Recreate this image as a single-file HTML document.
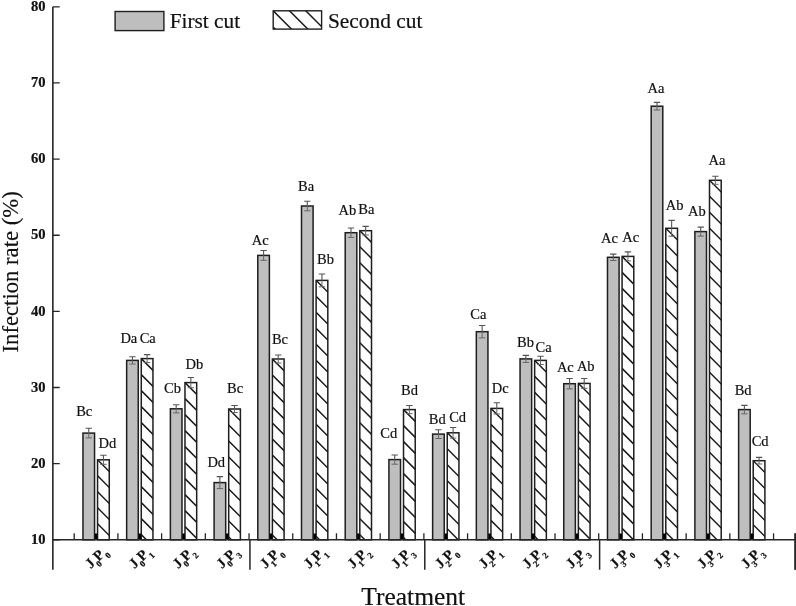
<!DOCTYPE html><html><head><meta charset="utf-8"><style>html,body{margin:0;padding:0;background:#fff;}svg{display:block;will-change:transform;}text{font-family:"Liberation Serif",serif;stroke:#111;stroke-width:0.2px;}</style></head><body>
<svg width="796" height="606" viewBox="0 0 796 606">
<rect width="796" height="606" fill="#fff"/>
<defs>
<clipPath id="c0"><rect x="97.56" y="459.80" width="11.70" height="80.00"/></clipPath>
<clipPath id="c1"><rect x="141.26" y="358.60" width="11.70" height="181.20"/></clipPath>
<clipPath id="c2"><rect x="184.98" y="382.60" width="11.70" height="157.20"/></clipPath>
<clipPath id="c3"><rect x="228.69" y="409.00" width="11.70" height="130.80"/></clipPath>
<clipPath id="c4"><rect x="272.39" y="359.00" width="11.70" height="180.80"/></clipPath>
<clipPath id="c5"><rect x="316.11" y="280.40" width="11.70" height="259.40"/></clipPath>
<clipPath id="c6"><rect x="359.81" y="230.70" width="11.70" height="309.10"/></clipPath>
<clipPath id="c7"><rect x="403.52" y="409.60" width="11.70" height="130.20"/></clipPath>
<clipPath id="c8"><rect x="447.24" y="432.80" width="11.70" height="107.00"/></clipPath>
<clipPath id="c9"><rect x="490.94" y="408.40" width="11.70" height="131.40"/></clipPath>
<clipPath id="c10"><rect x="534.65" y="360.40" width="11.70" height="179.40"/></clipPath>
<clipPath id="c11"><rect x="578.37" y="383.40" width="11.70" height="156.40"/></clipPath>
<clipPath id="c12"><rect x="622.08" y="256.40" width="11.70" height="283.40"/></clipPath>
<clipPath id="c13"><rect x="665.79" y="228.30" width="11.70" height="311.50"/></clipPath>
<clipPath id="c14"><rect x="709.50" y="180.30" width="11.70" height="359.50"/></clipPath>
<clipPath id="c15"><rect x="753.21" y="460.70" width="11.70" height="79.10"/></clipPath>
</defs>
<rect x="82.96" y="433.10" width="11.60" height="106.70" fill="#bebebe" stroke="#1e1e1e" stroke-width="1.5"/>
<rect x="97.56" y="459.80" width="11.70" height="80.00" fill="#fff"/>
<path d="M97.56 427.80L205.25 535.50M97.56 443.80L205.25 551.50M97.56 459.80L205.25 567.50M97.56 475.80L205.25 583.50M97.56 491.80L205.25 599.50M97.56 507.80L205.25 615.50M97.56 523.80L205.25 631.50M97.56 539.80L205.25 647.50" stroke="#1e1e1e" stroke-width="1.5" fill="none" clip-path="url(#c0)"/>
<rect x="97.56" y="459.80" width="11.70" height="80.00" fill="none" stroke="#1e1e1e" stroke-width="1.5"/>
<rect x="94.86" y="533.50" width="2.6" height="6.3" fill="#000"/>
<path d="M85.56 428.30H91.96M88.76 428.30V433.10" stroke="#555" stroke-width="1.1" fill="none"/>
<path d="M85.56 437.90H91.96M88.76 433.10V437.90" stroke="#666" stroke-width="1.0" fill="none"/>
<path d="M100.20 455.30H106.61M103.41 455.30V459.80" stroke="#555" stroke-width="1.1" fill="none"/>
<path d="M100.20 464.30H106.61M103.41 459.80V464.30" stroke="#666" stroke-width="1.0" fill="none"/>
<rect x="126.66" y="360.40" width="11.60" height="179.40" fill="#bebebe" stroke="#1e1e1e" stroke-width="1.5"/>
<rect x="141.26" y="358.60" width="11.70" height="181.20" fill="#fff"/>
<path d="M141.26 326.60L350.16 535.50M141.26 342.60L350.16 551.50M141.26 358.60L350.16 567.50M141.26 374.60L350.16 583.50M141.26 390.60L350.16 599.50M141.26 406.60L350.16 615.50M141.26 422.60L350.16 631.50M141.26 438.60L350.16 647.50M141.26 454.60L350.16 663.50M141.26 470.60L350.16 679.50M141.26 486.60L350.16 695.50M141.26 502.60L350.16 711.50M141.26 518.60L350.16 727.50M141.26 534.60L350.16 743.50M141.26 550.60L350.16 759.50" stroke="#1e1e1e" stroke-width="1.5" fill="none" clip-path="url(#c1)"/>
<rect x="141.26" y="358.60" width="11.70" height="181.20" fill="none" stroke="#1e1e1e" stroke-width="1.5"/>
<rect x="138.56" y="533.50" width="2.6" height="6.3" fill="#000"/>
<path d="M129.26 356.80H135.66M132.46 356.80V360.40" stroke="#555" stroke-width="1.1" fill="none"/>
<path d="M129.26 364.00H135.66M132.46 360.40V364.00" stroke="#666" stroke-width="1.0" fill="none"/>
<path d="M143.91 354.60H150.31M147.11 354.60V358.60" stroke="#555" stroke-width="1.1" fill="none"/>
<path d="M143.91 362.60H150.31M147.11 358.60V362.60" stroke="#666" stroke-width="1.0" fill="none"/>
<rect x="170.38" y="408.80" width="11.60" height="131.00" fill="#bebebe" stroke="#1e1e1e" stroke-width="1.5"/>
<rect x="184.98" y="382.60" width="11.70" height="157.20" fill="#fff"/>
<path d="M184.98 350.60L369.87 535.50M184.98 366.60L369.87 551.50M184.98 382.60L369.87 567.50M184.98 398.60L369.87 583.50M184.98 414.60L369.87 599.50M184.98 430.60L369.87 615.50M184.98 446.60L369.87 631.50M184.98 462.60L369.87 647.50M184.98 478.60L369.87 663.50M184.98 494.60L369.87 679.50M184.98 510.60L369.87 695.50M184.98 526.60L369.87 711.50M184.98 542.60L369.87 727.50" stroke="#1e1e1e" stroke-width="1.5" fill="none" clip-path="url(#c2)"/>
<rect x="184.98" y="382.60" width="11.70" height="157.20" fill="none" stroke="#1e1e1e" stroke-width="1.5"/>
<rect x="182.28" y="533.50" width="2.6" height="6.3" fill="#000"/>
<path d="M172.98 404.70H179.38M176.18 404.70V408.80" stroke="#555" stroke-width="1.1" fill="none"/>
<path d="M172.98 412.90H179.38M176.18 408.80V412.90" stroke="#666" stroke-width="1.0" fill="none"/>
<path d="M187.63 377.50H194.03M190.83 377.50V382.60" stroke="#555" stroke-width="1.1" fill="none"/>
<path d="M187.63 387.70H194.03M190.83 382.60V387.70" stroke="#666" stroke-width="1.0" fill="none"/>
<rect x="214.09" y="482.60" width="11.60" height="57.20" fill="#bebebe" stroke="#1e1e1e" stroke-width="1.5"/>
<rect x="228.69" y="409.00" width="11.70" height="130.80" fill="#fff"/>
<path d="M228.69 377.00L387.18 535.50M228.69 393.00L387.18 551.50M228.69 409.00L387.18 567.50M228.69 425.00L387.18 583.50M228.69 441.00L387.18 599.50M228.69 457.00L387.18 615.50M228.69 473.00L387.18 631.50M228.69 489.00L387.18 647.50M228.69 505.00L387.18 663.50M228.69 521.00L387.18 679.50M228.69 537.00L387.18 695.50M228.69 553.00L387.18 711.50" stroke="#1e1e1e" stroke-width="1.5" fill="none" clip-path="url(#c3)"/>
<rect x="228.69" y="409.00" width="11.70" height="130.80" fill="none" stroke="#1e1e1e" stroke-width="1.5"/>
<rect x="225.99" y="533.50" width="2.6" height="6.3" fill="#000"/>
<path d="M216.69 476.60H223.08M219.88 476.60V482.60" stroke="#555" stroke-width="1.1" fill="none"/>
<path d="M216.69 488.60H223.08M219.88 482.60V488.60" stroke="#666" stroke-width="1.0" fill="none"/>
<path d="M231.34 405.50H237.73M234.53 405.50V409.00" stroke="#555" stroke-width="1.1" fill="none"/>
<path d="M231.34 412.50H237.73M234.53 409.00V412.50" stroke="#666" stroke-width="1.0" fill="none"/>
<rect x="257.79" y="255.40" width="11.60" height="284.40" fill="#bebebe" stroke="#1e1e1e" stroke-width="1.5"/>
<rect x="272.39" y="359.00" width="11.70" height="180.80" fill="#fff"/>
<path d="M272.39 327.00L480.89 535.50M272.39 343.00L480.89 551.50M272.39 359.00L480.89 567.50M272.39 375.00L480.89 583.50M272.39 391.00L480.89 599.50M272.39 407.00L480.89 615.50M272.39 423.00L480.89 631.50M272.39 439.00L480.89 647.50M272.39 455.00L480.89 663.50M272.39 471.00L480.89 679.50M272.39 487.00L480.89 695.50M272.39 503.00L480.89 711.50M272.39 519.00L480.89 727.50M272.39 535.00L480.89 743.50M272.39 551.00L480.89 759.50" stroke="#1e1e1e" stroke-width="1.5" fill="none" clip-path="url(#c4)"/>
<rect x="272.39" y="359.00" width="11.70" height="180.80" fill="none" stroke="#1e1e1e" stroke-width="1.5"/>
<rect x="269.69" y="533.50" width="2.6" height="6.3" fill="#000"/>
<path d="M260.39 250.50H266.79M263.59 250.50V255.40" stroke="#555" stroke-width="1.1" fill="none"/>
<path d="M260.39 260.30H266.79M263.59 255.40V260.30" stroke="#666" stroke-width="1.0" fill="none"/>
<path d="M275.05 355.00H281.44M278.25 355.00V359.00" stroke="#555" stroke-width="1.1" fill="none"/>
<path d="M275.05 363.00H281.44M278.25 359.00V363.00" stroke="#666" stroke-width="1.0" fill="none"/>
<rect x="301.50" y="206.00" width="11.60" height="333.80" fill="#bebebe" stroke="#1e1e1e" stroke-width="1.5"/>
<rect x="316.11" y="280.40" width="11.70" height="259.40" fill="#fff"/>
<path d="M316.11 248.40L603.20 535.50M316.11 264.40L603.20 551.50M316.11 280.40L603.20 567.50M316.11 296.40L603.20 583.50M316.11 312.40L603.20 599.50M316.11 328.40L603.20 615.50M316.11 344.40L603.20 631.50M316.11 360.40L603.20 647.50M316.11 376.40L603.20 663.50M316.11 392.40L603.20 679.50M316.11 408.40L603.20 695.50M316.11 424.40L603.20 711.50M316.11 440.40L603.20 727.50M316.11 456.40L603.20 743.50M316.11 472.40L603.20 759.50M316.11 488.40L603.20 775.50M316.11 504.40L603.20 791.50M316.11 520.40L603.20 807.50M316.11 536.40L603.20 823.50M316.11 552.40L603.20 839.50" stroke="#1e1e1e" stroke-width="1.5" fill="none" clip-path="url(#c5)"/>
<rect x="316.11" y="280.40" width="11.70" height="259.40" fill="none" stroke="#1e1e1e" stroke-width="1.5"/>
<rect x="313.41" y="533.50" width="2.6" height="6.3" fill="#000"/>
<path d="M304.11 201.20H310.50M307.31 201.20V206.00" stroke="#555" stroke-width="1.1" fill="none"/>
<path d="M304.11 210.80H310.50M307.31 206.00V210.80" stroke="#666" stroke-width="1.0" fill="none"/>
<path d="M318.76 274.00H325.16M321.96 274.00V280.40" stroke="#555" stroke-width="1.1" fill="none"/>
<path d="M318.76 286.80H325.16M321.96 280.40V286.80" stroke="#666" stroke-width="1.0" fill="none"/>
<rect x="345.21" y="232.70" width="11.60" height="307.10" fill="#bebebe" stroke="#1e1e1e" stroke-width="1.5"/>
<rect x="359.81" y="230.70" width="11.70" height="309.10" fill="#fff"/>
<path d="M359.81 198.70L696.62 535.50M359.81 214.70L696.62 551.50M359.81 230.70L696.62 567.50M359.81 246.70L696.62 583.50M359.81 262.70L696.62 599.50M359.81 278.70L696.62 615.50M359.81 294.70L696.62 631.50M359.81 310.70L696.62 647.50M359.81 326.70L696.62 663.50M359.81 342.70L696.62 679.50M359.81 358.70L696.62 695.50M359.81 374.70L696.62 711.50M359.81 390.70L696.62 727.50M359.81 406.70L696.62 743.50M359.81 422.70L696.62 759.50M359.81 438.70L696.62 775.50M359.81 454.70L696.62 791.50M359.81 470.70L696.62 807.50M359.81 486.70L696.62 823.50M359.81 502.70L696.62 839.50M359.81 518.70L696.62 855.50M359.81 534.70L696.62 871.50M359.81 550.70L696.62 887.50" stroke="#1e1e1e" stroke-width="1.5" fill="none" clip-path="url(#c6)"/>
<rect x="359.81" y="230.70" width="11.70" height="309.10" fill="none" stroke="#1e1e1e" stroke-width="1.5"/>
<rect x="357.12" y="533.50" width="2.6" height="6.3" fill="#000"/>
<path d="M347.81 228.00H354.21M351.01 228.00V232.70" stroke="#555" stroke-width="1.1" fill="none"/>
<path d="M347.81 237.40H354.21M351.01 232.70V237.40" stroke="#666" stroke-width="1.0" fill="none"/>
<path d="M362.46 226.40H368.86M365.66 226.40V230.70" stroke="#555" stroke-width="1.1" fill="none"/>
<path d="M362.46 235.00H368.86M365.66 230.70V235.00" stroke="#666" stroke-width="1.0" fill="none"/>
<rect x="388.92" y="459.60" width="11.60" height="80.20" fill="#bebebe" stroke="#1e1e1e" stroke-width="1.5"/>
<rect x="403.52" y="409.60" width="11.70" height="130.20" fill="#fff"/>
<path d="M403.52 377.60L561.42 535.50M403.52 393.60L561.42 551.50M403.52 409.60L561.42 567.50M403.52 425.60L561.42 583.50M403.52 441.60L561.42 599.50M403.52 457.60L561.42 615.50M403.52 473.60L561.42 631.50M403.52 489.60L561.42 647.50M403.52 505.60L561.42 663.50M403.52 521.60L561.42 679.50M403.52 537.60L561.42 695.50M403.52 553.60L561.42 711.50" stroke="#1e1e1e" stroke-width="1.5" fill="none" clip-path="url(#c7)"/>
<rect x="403.52" y="409.60" width="11.70" height="130.20" fill="none" stroke="#1e1e1e" stroke-width="1.5"/>
<rect x="400.82" y="533.50" width="2.6" height="6.3" fill="#000"/>
<path d="M391.52 455.00H397.92M394.72 455.00V459.60" stroke="#555" stroke-width="1.1" fill="none"/>
<path d="M391.52 464.20H397.92M394.72 459.60V464.20" stroke="#666" stroke-width="1.0" fill="none"/>
<path d="M406.18 405.50H412.57M409.38 405.50V409.60" stroke="#555" stroke-width="1.1" fill="none"/>
<path d="M406.18 413.70H412.57M409.38 409.60V413.70" stroke="#666" stroke-width="1.0" fill="none"/>
<rect x="432.63" y="434.10" width="11.60" height="105.70" fill="#bebebe" stroke="#1e1e1e" stroke-width="1.5"/>
<rect x="447.24" y="432.80" width="11.70" height="107.00" fill="#fff"/>
<path d="M447.24 400.80L581.93 535.50M447.24 416.80L581.93 551.50M447.24 432.80L581.93 567.50M447.24 448.80L581.93 583.50M447.24 464.80L581.93 599.50M447.24 480.80L581.93 615.50M447.24 496.80L581.93 631.50M447.24 512.80L581.93 647.50M447.24 528.80L581.93 663.50M447.24 544.80L581.93 679.50" stroke="#1e1e1e" stroke-width="1.5" fill="none" clip-path="url(#c8)"/>
<rect x="447.24" y="432.80" width="11.70" height="107.00" fill="none" stroke="#1e1e1e" stroke-width="1.5"/>
<rect x="444.54" y="533.50" width="2.6" height="6.3" fill="#000"/>
<path d="M435.24 429.70H441.63M438.44 429.70V434.10" stroke="#555" stroke-width="1.1" fill="none"/>
<path d="M435.24 438.50H441.63M438.44 434.10V438.50" stroke="#666" stroke-width="1.0" fill="none"/>
<path d="M449.89 427.50H456.29M453.09 427.50V432.80" stroke="#555" stroke-width="1.1" fill="none"/>
<path d="M449.89 438.10H456.29M453.09 432.80V438.10" stroke="#666" stroke-width="1.0" fill="none"/>
<rect x="476.34" y="331.70" width="11.60" height="208.10" fill="#bebebe" stroke="#1e1e1e" stroke-width="1.5"/>
<rect x="490.94" y="408.40" width="11.70" height="131.40" fill="#fff"/>
<path d="M490.94 376.40L650.04 535.50M490.94 392.40L650.04 551.50M490.94 408.40L650.04 567.50M490.94 424.40L650.04 583.50M490.94 440.40L650.04 599.50M490.94 456.40L650.04 615.50M490.94 472.40L650.04 631.50M490.94 488.40L650.04 647.50M490.94 504.40L650.04 663.50M490.94 520.40L650.04 679.50M490.94 536.40L650.04 695.50M490.94 552.40L650.04 711.50" stroke="#1e1e1e" stroke-width="1.5" fill="none" clip-path="url(#c9)"/>
<rect x="490.94" y="408.40" width="11.70" height="131.40" fill="none" stroke="#1e1e1e" stroke-width="1.5"/>
<rect x="488.25" y="533.50" width="2.6" height="6.3" fill="#000"/>
<path d="M478.94 325.50H485.34M482.14 325.50V331.70" stroke="#555" stroke-width="1.1" fill="none"/>
<path d="M478.94 337.90H485.34M482.14 331.70V337.90" stroke="#666" stroke-width="1.0" fill="none"/>
<path d="M493.59 402.80H499.99M496.79 402.80V408.40" stroke="#555" stroke-width="1.1" fill="none"/>
<path d="M493.59 414.00H499.99M496.79 408.40V414.00" stroke="#666" stroke-width="1.0" fill="none"/>
<rect x="520.05" y="358.90" width="11.60" height="180.90" fill="#bebebe" stroke="#1e1e1e" stroke-width="1.5"/>
<rect x="534.65" y="360.40" width="11.70" height="179.40" fill="#fff"/>
<path d="M534.65 328.40L741.75 535.50M534.65 344.40L741.75 551.50M534.65 360.40L741.75 567.50M534.65 376.40L741.75 583.50M534.65 392.40L741.75 599.50M534.65 408.40L741.75 615.50M534.65 424.40L741.75 631.50M534.65 440.40L741.75 647.50M534.65 456.40L741.75 663.50M534.65 472.40L741.75 679.50M534.65 488.40L741.75 695.50M534.65 504.40L741.75 711.50M534.65 520.40L741.75 727.50M534.65 536.40L741.75 743.50M534.65 552.40L741.75 759.50" stroke="#1e1e1e" stroke-width="1.5" fill="none" clip-path="url(#c10)"/>
<rect x="534.65" y="360.40" width="11.70" height="179.40" fill="none" stroke="#1e1e1e" stroke-width="1.5"/>
<rect x="531.95" y="533.50" width="2.6" height="6.3" fill="#000"/>
<path d="M522.65 355.40H529.06M525.86 355.40V358.90" stroke="#555" stroke-width="1.1" fill="none"/>
<path d="M522.65 362.40H529.06M525.86 358.90V362.40" stroke="#666" stroke-width="1.0" fill="none"/>
<path d="M537.30 356.30H543.71M540.50 356.30V360.40" stroke="#555" stroke-width="1.1" fill="none"/>
<path d="M537.30 364.50H543.71M540.50 360.40V364.50" stroke="#666" stroke-width="1.0" fill="none"/>
<rect x="563.76" y="383.70" width="11.60" height="156.10" fill="#bebebe" stroke="#1e1e1e" stroke-width="1.5"/>
<rect x="578.37" y="383.40" width="11.70" height="156.40" fill="#fff"/>
<path d="M578.37 351.40L762.47 535.50M578.37 367.40L762.47 551.50M578.37 383.40L762.47 567.50M578.37 399.40L762.47 583.50M578.37 415.40L762.47 599.50M578.37 431.40L762.47 615.50M578.37 447.40L762.47 631.50M578.37 463.40L762.47 647.50M578.37 479.40L762.47 663.50M578.37 495.40L762.47 679.50M578.37 511.40L762.47 695.50M578.37 527.40L762.47 711.50M578.37 543.40L762.47 727.50" stroke="#1e1e1e" stroke-width="1.5" fill="none" clip-path="url(#c11)"/>
<rect x="578.37" y="383.40" width="11.70" height="156.40" fill="none" stroke="#1e1e1e" stroke-width="1.5"/>
<rect x="575.66" y="533.50" width="2.6" height="6.3" fill="#000"/>
<path d="M566.37 378.50H572.77M569.57 378.50V383.70" stroke="#555" stroke-width="1.1" fill="none"/>
<path d="M566.37 388.90H572.77M569.57 383.70V388.90" stroke="#666" stroke-width="1.0" fill="none"/>
<path d="M581.01 378.50H587.42M584.22 378.50V383.40" stroke="#555" stroke-width="1.1" fill="none"/>
<path d="M581.01 388.30H587.42M584.22 383.40V388.30" stroke="#666" stroke-width="1.0" fill="none"/>
<rect x="607.48" y="257.30" width="11.60" height="282.50" fill="#bebebe" stroke="#1e1e1e" stroke-width="1.5"/>
<rect x="622.08" y="256.40" width="11.70" height="283.40" fill="#fff"/>
<path d="M622.08 224.40L933.18 535.50M622.08 240.40L933.18 551.50M622.08 256.40L933.18 567.50M622.08 272.40L933.18 583.50M622.08 288.40L933.18 599.50M622.08 304.40L933.18 615.50M622.08 320.40L933.18 631.50M622.08 336.40L933.18 647.50M622.08 352.40L933.18 663.50M622.08 368.40L933.18 679.50M622.08 384.40L933.18 695.50M622.08 400.40L933.18 711.50M622.08 416.40L933.18 727.50M622.08 432.40L933.18 743.50M622.08 448.40L933.18 759.50M622.08 464.40L933.18 775.50M622.08 480.40L933.18 791.50M622.08 496.40L933.18 807.50M622.08 512.40L933.18 823.50M622.08 528.40L933.18 839.50M622.08 544.40L933.18 855.50" stroke="#1e1e1e" stroke-width="1.5" fill="none" clip-path="url(#c12)"/>
<rect x="622.08" y="256.40" width="11.70" height="283.40" fill="none" stroke="#1e1e1e" stroke-width="1.5"/>
<rect x="619.38" y="533.50" width="2.6" height="6.3" fill="#000"/>
<path d="M610.08 254.10H616.48M613.28 254.10V257.30" stroke="#555" stroke-width="1.1" fill="none"/>
<path d="M610.08 260.50H616.48M613.28 257.30V260.50" stroke="#666" stroke-width="1.0" fill="none"/>
<path d="M624.73 251.90H631.13M627.93 251.90V256.40" stroke="#555" stroke-width="1.1" fill="none"/>
<path d="M624.73 260.90H631.13M627.93 256.40V260.90" stroke="#666" stroke-width="1.0" fill="none"/>
<rect x="651.19" y="106.20" width="11.60" height="433.60" fill="#bebebe" stroke="#1e1e1e" stroke-width="1.5"/>
<rect x="665.79" y="228.30" width="11.70" height="311.50" fill="#fff"/>
<path d="M665.79 196.30L1004.99 535.50M665.79 212.30L1004.99 551.50M665.79 228.30L1004.99 567.50M665.79 244.30L1004.99 583.50M665.79 260.30L1004.99 599.50M665.79 276.30L1004.99 615.50M665.79 292.30L1004.99 631.50M665.79 308.30L1004.99 647.50M665.79 324.30L1004.99 663.50M665.79 340.30L1004.99 679.50M665.79 356.30L1004.99 695.50M665.79 372.30L1004.99 711.50M665.79 388.30L1004.99 727.50M665.79 404.30L1004.99 743.50M665.79 420.30L1004.99 759.50M665.79 436.30L1004.99 775.50M665.79 452.30L1004.99 791.50M665.79 468.30L1004.99 807.50M665.79 484.30L1004.99 823.50M665.79 500.30L1004.99 839.50M665.79 516.30L1004.99 855.50M665.79 532.30L1004.99 871.50M665.79 548.30L1004.99 887.50" stroke="#1e1e1e" stroke-width="1.5" fill="none" clip-path="url(#c13)"/>
<rect x="665.79" y="228.30" width="11.70" height="311.50" fill="none" stroke="#1e1e1e" stroke-width="1.5"/>
<rect x="663.09" y="533.50" width="2.6" height="6.3" fill="#000"/>
<path d="M653.79 102.40H660.19M656.99 102.40V106.20" stroke="#555" stroke-width="1.1" fill="none"/>
<path d="M653.79 110.00H660.19M656.99 106.20V110.00" stroke="#666" stroke-width="1.0" fill="none"/>
<path d="M668.44 220.40H674.84M671.64 220.40V228.30" stroke="#555" stroke-width="1.1" fill="none"/>
<path d="M668.44 236.20H674.84M671.64 228.30V236.20" stroke="#666" stroke-width="1.0" fill="none"/>
<rect x="694.89" y="231.60" width="11.60" height="308.20" fill="#bebebe" stroke="#1e1e1e" stroke-width="1.5"/>
<rect x="709.50" y="180.30" width="11.70" height="359.50" fill="#fff"/>
<path d="M709.50 148.30L1096.69 535.50M709.50 164.30L1096.69 551.50M709.50 180.30L1096.69 567.50M709.50 196.30L1096.69 583.50M709.50 212.30L1096.69 599.50M709.50 228.30L1096.69 615.50M709.50 244.30L1096.69 631.50M709.50 260.30L1096.69 647.50M709.50 276.30L1096.69 663.50M709.50 292.30L1096.69 679.50M709.50 308.30L1096.69 695.50M709.50 324.30L1096.69 711.50M709.50 340.30L1096.69 727.50M709.50 356.30L1096.69 743.50M709.50 372.30L1096.69 759.50M709.50 388.30L1096.69 775.50M709.50 404.30L1096.69 791.50M709.50 420.30L1096.69 807.50M709.50 436.30L1096.69 823.50M709.50 452.30L1096.69 839.50M709.50 468.30L1096.69 855.50M709.50 484.30L1096.69 871.50M709.50 500.30L1096.69 887.50M709.50 516.30L1096.69 903.50M709.50 532.30L1096.69 919.50M709.50 548.30L1096.69 935.50" stroke="#1e1e1e" stroke-width="1.5" fill="none" clip-path="url(#c14)"/>
<rect x="709.50" y="180.30" width="11.70" height="359.50" fill="none" stroke="#1e1e1e" stroke-width="1.5"/>
<rect x="706.79" y="533.50" width="2.6" height="6.3" fill="#000"/>
<path d="M697.49 227.10H703.89M700.69 227.10V231.60" stroke="#555" stroke-width="1.1" fill="none"/>
<path d="M697.49 236.10H703.89M700.69 231.60V236.10" stroke="#666" stroke-width="1.0" fill="none"/>
<path d="M712.14 176.30H718.55M715.35 176.30V180.30" stroke="#555" stroke-width="1.1" fill="none"/>
<path d="M712.14 184.30H718.55M715.35 180.30V184.30" stroke="#666" stroke-width="1.0" fill="none"/>
<rect x="738.61" y="409.60" width="11.60" height="130.20" fill="#bebebe" stroke="#1e1e1e" stroke-width="1.5"/>
<rect x="753.21" y="460.70" width="11.70" height="79.10" fill="#fff"/>
<path d="M753.21 428.70L860.01 535.50M753.21 444.70L860.01 551.50M753.21 460.70L860.01 567.50M753.21 476.70L860.01 583.50M753.21 492.70L860.01 599.50M753.21 508.70L860.01 615.50M753.21 524.70L860.01 631.50M753.21 540.70L860.01 647.50" stroke="#1e1e1e" stroke-width="1.5" fill="none" clip-path="url(#c15)"/>
<rect x="753.21" y="460.70" width="11.70" height="79.10" fill="none" stroke="#1e1e1e" stroke-width="1.5"/>
<rect x="750.50" y="533.50" width="2.6" height="6.3" fill="#000"/>
<path d="M741.20 405.40H747.61M744.40 405.40V409.60" stroke="#555" stroke-width="1.1" fill="none"/>
<path d="M741.20 413.80H747.61M744.40 409.60V413.80" stroke="#666" stroke-width="1.0" fill="none"/>
<path d="M755.86 457.40H762.26M759.06 457.40V460.70" stroke="#555" stroke-width="1.1" fill="none"/>
<path d="M755.86 464.00H762.26M759.06 460.70V464.00" stroke="#666" stroke-width="1.0" fill="none"/>
<g font-size="14.5" fill="#111" stroke="#111" stroke-width="0.25">
<text x="76.20" y="415.50">Bc</text>
<text x="98.50" y="447.90">Dd</text>
<text x="120.40" y="343.20">Da</text>
<text x="139.70" y="343.20">Ca</text>
<text x="164.00" y="393.40">Cb</text>
<text x="185.50" y="368.50">Db</text>
<text x="207.40" y="466.90">Dd</text>
<text x="227.10" y="393.40">Bc</text>
<text x="251.70" y="244.80">Ac</text>
<text x="271.90" y="343.80">Bc</text>
<text x="298.00" y="190.70">Ba</text>
<text x="317.10" y="263.90">Bb</text>
<text x="338.50" y="215.00">Ab</text>
<text x="358.30" y="214.00">Ba</text>
<text x="380.30" y="437.70">Cd</text>
<text x="401.00" y="395.10">Bd</text>
<text x="428.80" y="423.80">Bd</text>
<text x="449.20" y="421.80">Cd</text>
<text x="470.30" y="319.10">Ca</text>
<text x="491.70" y="392.90">Dc</text>
<text x="517.00" y="346.80">Bb</text>
<text x="535.50" y="352.20">Ca</text>
<text x="556.90" y="372.20">Ac</text>
<text x="576.90" y="371.40">Ab</text>
<text x="601.10" y="242.60">Ac</text>
<text x="622.20" y="241.50">Ac</text>
<text x="647.50" y="93.00">Aa</text>
<text x="665.70" y="209.50">Ab</text>
<text x="688.10" y="216.20">Ab</text>
<text x="708.50" y="164.50">Aa</text>
<text x="734.70" y="394.70">Bd</text>
<text x="751.70" y="445.50">Cd</text>
</g>
<path d="M52.85 6.8V569.8" stroke="#262626" stroke-width="1.6" fill="none"/>
<path d="M52.05 539.80H796" stroke="#262626" stroke-width="1.5" fill="none"/>
<path d="M52.85 539.80H59.7M52.85 463.66H59.7M52.85 387.52H59.7M52.85 311.38H59.7M52.85 235.24H59.7M52.85 159.10H59.7M52.85 82.96H59.7M52.85 6.82H59.7M74.20 539.80V533.2M117.91 539.80V533.2M161.62 539.80V533.2M205.33 539.80V533.2M249.04 539.80V533.2M292.75 539.80V533.2M336.46 539.80V533.2M380.17 539.80V533.2M423.88 539.80V533.2M467.59 539.80V533.2M511.30 539.80V533.2M555.01 539.80V533.2M598.72 539.80V533.2M642.43 539.80V533.2M686.14 539.80V533.2M729.85 539.80V533.2M773.56 539.80V533.2" stroke="#262626" stroke-width="1.3" fill="none"/>
<path d="M249.94 539.80V569.8M424.78 539.80V569.8M599.62 539.80V569.8" stroke="#262626" stroke-width="1.5" fill="none"/>
<rect x="794.2" y="533.2" width="1.8" height="36.7" fill="#262626"/>
<g font-size="14.6" font-weight="bold" text-anchor="end" fill="#111">
<text x="45.5" y="544.00">10</text>
<text x="45.5" y="467.86">20</text>
<text x="45.5" y="391.72">30</text>
<text x="45.5" y="315.58">40</text>
<text x="45.5" y="239.44">50</text>
<text x="45.5" y="163.30">60</text>
<text x="45.5" y="87.16">70</text>
<text x="45.5" y="11.02">80</text>
</g>
<g font-weight="bold" fill="#111">
<g transform="translate(90.76 569.20) rotate(-45)"><text font-size="14.5">J<tspan font-size="8.8" dy="5">0</tspan><tspan dx="-0.7" dy="-4.6">P</tspan><tspan font-size="8.8" dy="5">0</tspan></text></g>
<g transform="translate(134.46 569.20) rotate(-45)"><text font-size="14.5">J<tspan font-size="8.8" dy="5">0</tspan><tspan dx="-0.7" dy="-4.6">P</tspan><tspan font-size="8.8" dy="5">1</tspan></text></g>
<g transform="translate(178.18 569.20) rotate(-45)"><text font-size="14.5">J<tspan font-size="8.8" dy="5">0</tspan><tspan dx="-0.7" dy="-4.6">P</tspan><tspan font-size="8.8" dy="5">2</tspan></text></g>
<g transform="translate(221.88 569.20) rotate(-45)"><text font-size="14.5">J<tspan font-size="8.8" dy="5">0</tspan><tspan dx="-0.7" dy="-4.6">P</tspan><tspan font-size="8.8" dy="5">3</tspan></text></g>
<g transform="translate(265.59 569.20) rotate(-45)"><text font-size="14.5">J<tspan font-size="8.8" dy="5">1</tspan><tspan dx="-0.7" dy="-4.6">P</tspan><tspan font-size="8.8" dy="5">0</tspan></text></g>
<g transform="translate(309.31 569.20) rotate(-45)"><text font-size="14.5">J<tspan font-size="8.8" dy="5">1</tspan><tspan dx="-0.7" dy="-4.6">P</tspan><tspan font-size="8.8" dy="5">1</tspan></text></g>
<g transform="translate(353.01 569.20) rotate(-45)"><text font-size="14.5">J<tspan font-size="8.8" dy="5">1</tspan><tspan dx="-0.7" dy="-4.6">P</tspan><tspan font-size="8.8" dy="5">2</tspan></text></g>
<g transform="translate(396.72 569.20) rotate(-45)"><text font-size="14.5">J<tspan font-size="8.8" dy="5">1</tspan><tspan dx="-0.7" dy="-4.6">P</tspan><tspan font-size="8.8" dy="5">3</tspan></text></g>
<g transform="translate(440.44 569.20) rotate(-45)"><text font-size="14.5">J<tspan font-size="8.8" dy="5">2</tspan><tspan dx="-0.7" dy="-4.6">P</tspan><tspan font-size="8.8" dy="5">0</tspan></text></g>
<g transform="translate(484.14 569.20) rotate(-45)"><text font-size="14.5">J<tspan font-size="8.8" dy="5">2</tspan><tspan dx="-0.7" dy="-4.6">P</tspan><tspan font-size="8.8" dy="5">1</tspan></text></g>
<g transform="translate(527.86 569.20) rotate(-45)"><text font-size="14.5">J<tspan font-size="8.8" dy="5">2</tspan><tspan dx="-0.7" dy="-4.6">P</tspan><tspan font-size="8.8" dy="5">2</tspan></text></g>
<g transform="translate(571.57 569.20) rotate(-45)"><text font-size="14.5">J<tspan font-size="8.8" dy="5">2</tspan><tspan dx="-0.7" dy="-4.6">P</tspan><tspan font-size="8.8" dy="5">3</tspan></text></g>
<g transform="translate(615.28 569.20) rotate(-45)"><text font-size="14.5">J<tspan font-size="8.8" dy="5">3</tspan><tspan dx="-0.7" dy="-4.6">P</tspan><tspan font-size="8.8" dy="5">0</tspan></text></g>
<g transform="translate(658.99 569.20) rotate(-45)"><text font-size="14.5">J<tspan font-size="8.8" dy="5">3</tspan><tspan dx="-0.7" dy="-4.6">P</tspan><tspan font-size="8.8" dy="5">1</tspan></text></g>
<g transform="translate(702.70 569.20) rotate(-45)"><text font-size="14.5">J<tspan font-size="8.8" dy="5">3</tspan><tspan dx="-0.7" dy="-4.6">P</tspan><tspan font-size="8.8" dy="5">2</tspan></text></g>
<g transform="translate(746.41 569.20) rotate(-45)"><text font-size="14.5">J<tspan font-size="8.8" dy="5">3</tspan><tspan dx="-0.7" dy="-4.6">P</tspan><tspan font-size="8.8" dy="5">3</tspan></text></g>
</g>
<text x="361.3" y="604.5" font-size="25.5" fill="#111">Treatment</text>
<text transform="translate(17.9 352.5) rotate(-90)" font-size="22.7" fill="#111">Infection rate (%)</text>
<rect x="115.1" y="11.5" width="48.8" height="19.1" fill="#bebebe" stroke="#1e1e1e" stroke-width="1.4"/>
<text x="169.7" y="28.2" font-size="21.3" fill="#111">First cut</text>
<clipPath id="lg"><rect x="273.2" y="10.8" width="48.4" height="18.3"/></clipPath>
<rect x="273.2" y="10.8" width="48.4" height="18.3" fill="#fff"/>
<path d="M273.20 -54.40L356.20 28.60M273.20 -38.10L356.20 44.90M273.20 -21.80L356.20 61.20M273.20 -5.50L356.20 77.50M273.20 10.80L356.20 93.80M273.20 27.10L356.20 110.10M273.20 43.40L356.20 126.40" stroke="#1e1e1e" stroke-width="1.5" fill="none" clip-path="url(#lg)"/>
<rect x="273.2" y="10.8" width="48.4" height="18.3" fill="none" stroke="#1e1e1e" stroke-width="1.4"/>
<text x="327.9" y="28.2" font-size="21.4" fill="#111">Second cut</text>
</svg></body></html>
